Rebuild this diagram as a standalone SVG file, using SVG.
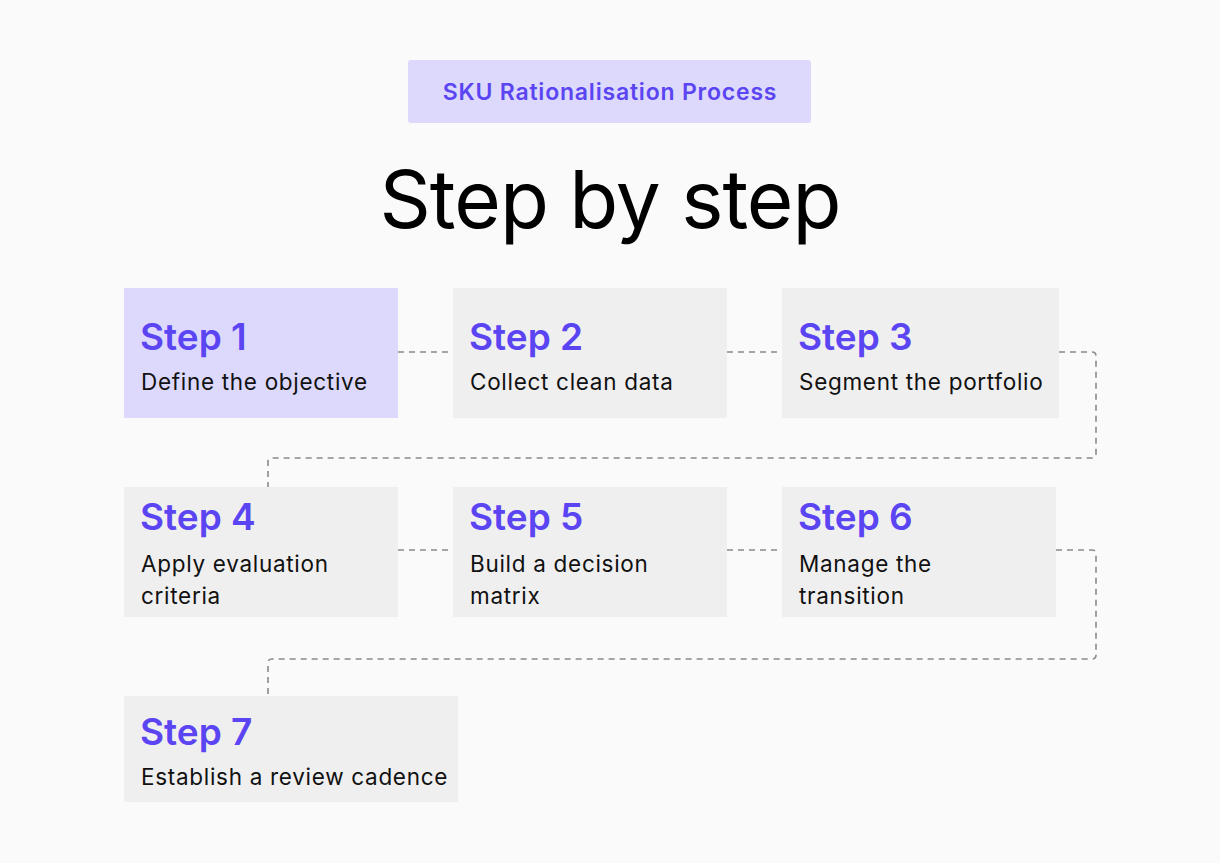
<svg xmlns="http://www.w3.org/2000/svg" width="1220" height="863" viewBox="0 0 1220 863">
<style>
.bx{fill:#efefef}.hl{fill:#dcd9fc}
.st{font-family:Inter,"Noto Sans",sans-serif;font-weight:600;font-size:37px;fill:#5b45f2}
.ds{font-family:Inter,"Noto Sans",sans-serif;font-size:22.5px;letter-spacing:0.7px;fill:#111}
.cn{fill:none;stroke:#8a8a8a;stroke-width:1.6;stroke-dasharray:6 5}
</style>
<rect width="1220" height="863" fill="#fafafa"/>
<g id="badge"><rect x="408" y="60" width="403" height="63" rx="3" fill="#dcd9fc"/>
<text x="610" y="100" text-anchor="middle" font-family="Inter,'Noto Sans',sans-serif" font-weight="600" font-size="23" letter-spacing="0.8" fill="#5b45f2">SKU Rationalisation Process</text></g>
<text id="title" x="610" y="228" text-anchor="middle" font-family="Inter,'Noto Sans',sans-serif" font-size="80" fill="#000" letter-spacing="-1">Step by step</text>
<g id="connectors">
<path class="cn" d="M398 352H453M727 352H782M1059 352H1092Q1096 352 1096 356V454Q1096 458 1092 458H272Q268 458 268 462V487"/>
<path class="cn" d="M398 550H453M727 550H782M1056 550H1092Q1096 550 1096 554V655Q1096 659 1092 659H272Q268 659 268 663V696"/>
</g>
<g id="step1"><rect class="hl" x="124" y="288" width="274" height="130"/><text class="st" x="140" y="350">Step 1</text><text class="ds" x="141" y="390">Define the objective</text></g>
<g id="step2"><rect class="bx" x="453" y="288" width="274" height="130"/><text class="st" x="469" y="350">Step 2</text><text class="ds" x="470" y="390">Collect clean data</text></g>
<g id="step3"><rect class="bx" x="782" y="288" width="277" height="130"/><text class="st" x="798" y="350">Step 3</text><text class="ds" x="799" y="390">Segment the portfolio</text></g>
<g id="step4"><rect class="bx" x="124" y="487" width="274" height="130"/><text class="st" x="140" y="530">Step 4</text><text class="ds" x="141" y="572">Apply evaluation</text><text class="ds" x="141" y="604">criteria</text></g>
<g id="step5"><rect class="bx" x="453" y="487" width="274" height="130"/><text class="st" x="469" y="530">Step 5</text><text class="ds" x="470" y="572">Build a decision</text><text class="ds" x="470" y="604">matrix</text></g>
<g id="step6"><rect class="bx" x="782" y="487" width="274" height="130"/><text class="st" x="798" y="530">Step 6</text><text class="ds" x="799" y="572">Manage the</text><text class="ds" x="799" y="604">transition</text></g>
<g id="step7"><rect class="bx" x="124" y="696" width="334" height="106"/><text class="st" x="140" y="745">Step 7</text><text class="ds" x="141" y="785">Establish a review cadence</text></g>
</svg>
